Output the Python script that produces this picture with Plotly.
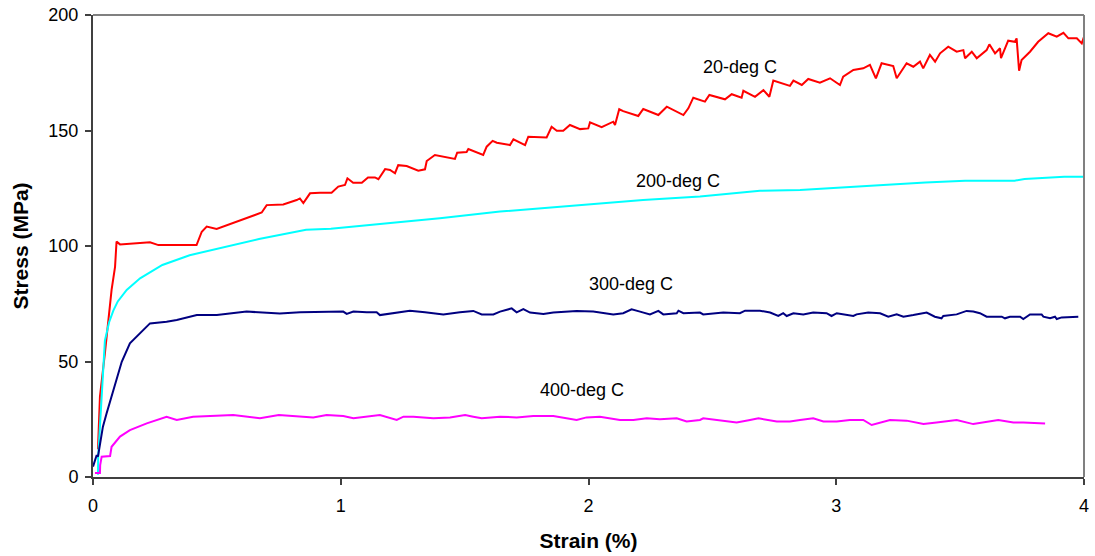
import plotly.graph_objects as go

# ---- data (strain %, stress MPa) ----
x_20 = [0.020, 0.021, 0.028, 0.048, 0.062, 0.075, 0.089, 0.095, 0.109, 0.203, 0.230, 0.264, 0.418,
        0.439, 0.459, 0.499, 0.566, 0.620, 0.681, 0.701, 0.768, 0.822, 0.835, 0.849, 0.876, 0.916,
        0.963, 0.990, 1.017, 1.027, 1.050, 1.085, 1.110, 1.138, 1.152, 1.179, 1.199, 1.219, 1.232,
        1.266, 1.313, 1.340, 1.347, 1.380, 1.420, 1.461, 1.470, 1.508, 1.515, 1.575, 1.589, 1.613,
        1.630, 1.683, 1.697, 1.744, 1.757, 1.831, 1.851, 1.872, 1.898, 1.925, 1.966, 1.999, 2.006,
        2.053, 2.100, 2.107, 2.124, 2.140, 2.201, 2.221, 2.282, 2.316, 2.383, 2.403, 2.423, 2.470,
        2.488, 2.551, 2.578, 2.618, 2.625, 2.672, 2.706, 2.730, 2.746, 2.813, 2.827, 2.861, 2.887,
        2.934, 2.975, 3.015, 3.028, 3.069, 3.109, 3.136, 3.160, 3.183, 3.230, 3.244, 3.284, 3.311,
        3.338, 3.351, 3.378, 3.399, 3.419, 3.452, 3.486, 3.513, 3.520, 3.547, 3.567, 3.607, 3.618,
        3.641, 3.661, 3.665, 3.694, 3.721, 3.728, 3.738, 3.748, 3.782, 3.815, 3.856, 3.890, 3.917,
        3.937, 3.971, 3.991, 4.000]
y_20 = [12.0, 16.0, 34.8, 53.5, 66.5, 81.0, 91.0, 101.9, 100.7, 101.2, 101.6, 100.4, 100.4,
        106.2, 108.4, 107.4, 109.9, 112.0, 114.5, 117.7, 118.0, 119.9, 120.6, 118.6, 122.8, 123.1,
        123.1, 125.7, 126.4, 129.3, 127.4, 127.4, 129.7, 129.7, 128.9, 133.3, 132.9, 131.5, 135.0,
        134.6, 132.6, 133.2, 136.8, 139.4, 138.7, 137.7, 140.4, 140.7, 142.0, 139.4, 143.0, 145.5,
        144.7, 143.7, 146.2, 143.7, 147.3, 147.0, 151.6, 149.9, 149.9, 152.4, 150.6, 150.9, 153.5,
        151.4, 153.8, 152.4, 159.2, 158.4, 156.3, 159.3, 156.7, 160.3, 156.7, 159.6, 164.2, 162.5,
        165.4, 163.5, 165.7, 164.2, 167.2, 164.6, 167.5, 164.6, 171.6, 169.3, 171.6, 169.7, 172.3,
        170.7, 172.6, 169.7, 173.3, 176.2, 176.9, 178.4, 172.6, 179.1, 177.9, 172.6, 179.1, 177.6,
        179.8, 176.9, 182.7, 179.8, 183.4, 186.3, 184.1, 184.8, 181.3, 184.1, 181.3, 184.8, 187.3,
        183.4, 185.6, 181.3, 188.9, 188.4, 189.9, 175.9, 180.5, 184.1, 188.4, 192.1, 190.6, 192.3,
        189.9, 189.9, 187.7, 190.6]

x_200 = [0.020, 0.021, 0.035, 0.048, 0.065, 0.082, 0.100, 0.136, 0.190, 0.280, 0.390, 0.510, 0.670,
         0.860, 0.960, 1.200, 1.400, 1.643, 1.979, 2.220, 2.450, 2.692, 2.854, 3.016, 3.190, 3.360,
         3.520, 3.720, 3.760, 3.920, 4.000]
y_200 = [1.0, 9.0, 34.8, 59.0, 67.0, 72.0, 76.0, 81.0, 86.0, 91.8, 96.0, 99.0, 103.0,
         107.0, 107.5, 110.0, 112.0, 114.9, 117.7, 119.9, 121.4, 123.9, 124.2, 125.4, 126.4, 127.5,
         128.3, 128.3, 129.0, 130.0, 130.0]

x_300 = [0.000, 0.015, 0.020, 0.040, 0.055, 0.075, 0.095, 0.116, 0.149, 0.190, 0.230, 0.297, 0.338,
         0.419, 0.500, 0.620, 0.754, 0.836, 0.889, 0.943, 1.010, 1.024, 1.051, 1.105, 1.145, 1.158,
         1.226, 1.279, 1.340, 1.414, 1.481, 1.535, 1.569, 1.616, 1.643, 1.690, 1.710, 1.737, 1.764,
         1.818, 1.858, 1.952, 2.019, 2.100, 2.140, 2.174, 2.208, 2.248, 2.282, 2.302, 2.356, 2.363,
         2.383, 2.450, 2.463, 2.544, 2.611, 2.632, 2.692, 2.733, 2.766, 2.786, 2.800, 2.827, 2.867,
         2.907, 2.961, 2.981, 3.002, 3.069, 3.082, 3.129, 3.177, 3.210, 3.244, 3.271, 3.311, 3.365,
         3.398, 3.425, 3.432, 3.486, 3.526, 3.553, 3.580, 3.607, 3.668, 3.681, 3.701, 3.742, 3.755,
         3.782, 3.829, 3.836, 3.863, 3.883, 3.890, 3.910, 3.977]
y_300 = [4.5, 9.5, 8.8, 21.8, 27.6, 34.8, 42.0, 49.9, 57.9, 62.2, 66.5, 67.2, 68.0,
         70.1, 70.1, 71.6, 70.8, 71.3, 71.3, 71.6, 71.6, 70.6, 71.6, 71.3, 71.3, 70.1,
         71.3, 72.0, 71.3, 70.4, 71.3, 71.9, 70.4, 70.4, 71.6, 73.0, 71.3, 72.7, 71.2,
         70.6, 71.2, 71.9, 71.6, 70.4, 70.9, 72.6, 71.6, 70.4, 71.9, 70.4, 70.9, 72.0,
         70.9, 71.2, 70.4, 71.2, 70.9, 72.0, 72.0, 71.2, 69.7, 70.9, 69.7, 70.9, 70.4,
         71.2, 70.9, 69.7, 70.9, 69.7, 70.4, 71.2, 70.9, 69.4, 70.4, 69.4, 70.1, 71.2,
         69.4, 68.7, 69.7, 70.4, 71.9, 71.6, 70.9, 69.4, 69.4, 68.7, 69.4, 69.4, 68.4,
         70.4, 70.4, 69.4, 68.7, 69.4, 68.4, 69.1, 69.4]

x_400 = [0.008, 0.028, 0.029, 0.035, 0.069, 0.075, 0.109, 0.149, 0.217, 0.297, 0.338, 0.404, 0.566,
         0.674, 0.750, 0.836, 0.889, 0.943, 1.010, 1.051, 1.105, 1.158, 1.226, 1.253, 1.293, 1.374,
         1.441, 1.502, 1.535, 1.569, 1.643, 1.710, 1.777, 1.858, 1.952, 1.992, 2.046, 2.127, 2.181,
         2.235, 2.288, 2.356, 2.396, 2.450, 2.463, 2.544, 2.598, 2.652, 2.686, 2.760, 2.813, 2.854,
         2.907, 2.948, 3.002, 3.055, 3.109, 3.143, 3.177, 3.217, 3.284, 3.352, 3.405, 3.486, 3.553,
         3.621, 3.654, 3.715, 3.755, 3.843]
y_400 = [1.7, 1.7, 5.2, 8.8, 9.1, 13.1, 17.5, 20.3, 23.2, 26.1, 24.7, 26.1, 26.8,
         25.4, 26.8, 26.1, 25.8, 26.8, 26.4, 25.4, 26.1, 26.8, 24.7, 26.1, 26.1, 25.4,
         25.8, 26.8, 26.1, 25.4, 26.1, 25.8, 26.4, 26.4, 24.7, 25.8, 26.1, 24.7, 24.7,
         25.4, 25.0, 25.4, 24.0, 24.7, 25.4, 24.4, 23.6, 24.7, 25.4, 24.0, 24.0, 24.7,
         25.4, 24.0, 24.0, 24.7, 24.7, 22.5, 23.6, 24.7, 24.4, 22.9, 23.6, 24.7, 22.9,
         24.0, 24.7, 23.6, 23.6, 23.2]

labels = ["20-deg C", "200-deg C", "300-deg C", "400-deg C"]
label_x = [2.61, 2.363, 2.172, 1.975]
label_y = [177.5, 128.3, 83.4, 37.7]

x_ticks = [0, 1, 2, 3, 4]
y_ticks = [0, 50, 100, 150, 200]

series = [(x_20, y_20, "#FF0000"), (x_200, y_200, "#00FFFF"),
          (x_300, y_300, "#000080"), (x_400, y_400, "#FF00FF")]

FONT = "Liberation Sans, Arial, sans-serif"

fig = go.Figure()
for (xs, ys, col), name in zip(series, labels):
    fig.add_trace(go.Scatter(x=xs, y=ys, mode="lines", name=name,
                             line=dict(color=col, width=2), showlegend=False))

for t, lx, ly in zip(labels, label_x, label_y):
    fig.add_annotation(x=lx, y=ly, text=t, showarrow=False,
                       font=dict(family=FONT, size=18, color="#000000"))

# gray frame on top and right of the plot area
fig.add_shape(type="line", xref="paper", yref="paper", x0=0, x1=1, y0=1, y1=1,
              line=dict(color="#808080", width=2))
fig.add_shape(type="line", xref="paper", yref="paper", x0=1, x1=1, y0=0, y1=1,
              line=dict(color="#808080", width=2))

axis_common = dict(showgrid=False, zeroline=False, showline=True, linecolor="#404040",
                   linewidth=2, ticks="outside", ticklen=6, tickwidth=1.5, tickcolor="#404040",
                   automargin=False,
                   tickfont=dict(family=FONT, size=18, color="#000000"))

fig.update_xaxes(range=[0, 4], tickvals=x_ticks, ticktext=[str(v) for v in x_ticks],
                 ticklabelstandoff=5,
                 title=dict(text="<b>Strain (%)</b>", font=dict(family=FONT, size=21, color="#000000"),
                            standoff=19),
                 **axis_common)
fig.update_yaxes(range=[0, 200], tickvals=y_ticks, ticktext=[str(v) for v in y_ticks],
                 ticklabelstandoff=3,
                 title=dict(text="<b>Stress (MPa)</b>", font=dict(family=FONT, size=21, color="#000000"),
                            standoff=14),
                 **axis_common)

fig.update_layout(width=1095, height=556, plot_bgcolor="#FFFFFF", paper_bgcolor="#FFFFFF",
                  margin=dict(l=93, r=11, t=15, b=79), font=dict(family=FONT))

fig.write_html("out.html", config={"displayModeBar": False},
               post_script="document.body.style.margin='0';document.body.style.overflow='hidden';")
